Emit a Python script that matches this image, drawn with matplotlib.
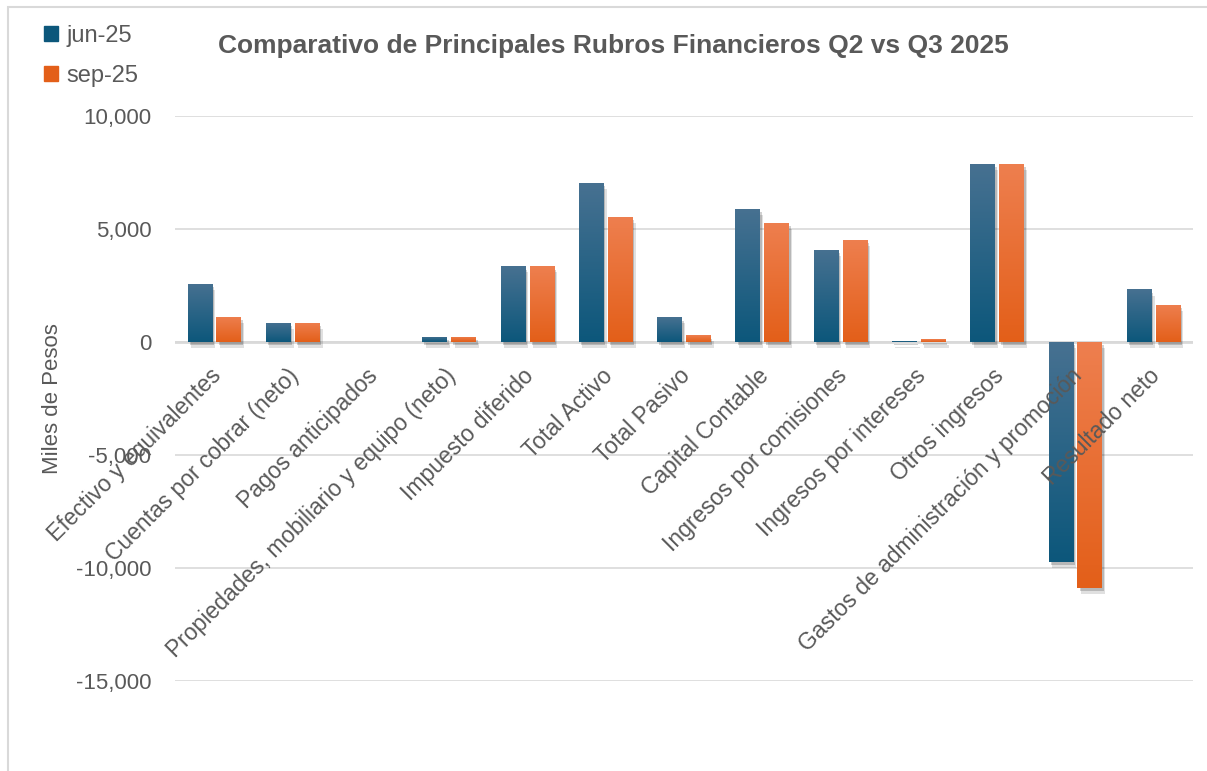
import numpy as np
import matplotlib.pyplot as plt
import matplotlib.patheffects as pe
from matplotlib.colors import LinearSegmentedColormap
from matplotlib.patches import Rectangle

plt.rcParams["font.family"] = ["Liberation Sans", "DejaVu Sans"]

# Data (miles de pesos)
categories = [
    "Efectivo y equivalentes",
    "Cuentas por cobrar (neto)",
    "Pagos anticipados",
    "Propiedades, mobiliario y equipo (neto)",
    "Impuesto diferido",
    "Total Activo",
    "Total Pasivo",
    "Capital Contable",
    "Ingresos por comisiones",
    "Ingresos por intereses",
    "Otros ingresos",
    "Gastos de administración y promoción",
    "Resultado neto",
]
jun_25 = [2580, 850, 10, 230, 3350, 7030, 1100, 5890, 4080, 50, 7880, -9730, 2320]
sep_25 = [1110, 850, 10, 230, 3350, 5540, 300, 5270, 4520, 120, 7880, -10870, 1650]
series_names = ["jun-25", "sep-25"]

text_color = "#595959"
grid_color = "#D9D9D9"
jun_colors = ("#477191", "#0C577B")
sep_colors = ("#EE7F4F", "#E35F19")

fig = plt.figure(figsize=(12.07, 7.71), dpi=100)
ax = fig.add_axes([0.145, 0.1167, 0.843, 0.733])

# outer chart border
fig.patches.append(Rectangle((0.007, -0.01), 1.0, 1.001, transform=fig.transFigure,
                             fill=False, edgecolor="#D9D9D9", linewidth=1.5))

x = np.arange(len(categories))
width = 0.31
off = 0.185

# soft drop shadow
shadow = [
    pe.SimplePatchShadow(offset=(2.5, -4.5), shadow_rgbFace="black", alpha=0.12),
    pe.SimplePatchShadow(offset=(1.5, -2.5), shadow_rgbFace="black", alpha=0.18),
    pe.Normal(),
]
bars_jun = ax.bar(x - off, jun_25, width, color=jun_colors[1], zorder=3, path_effects=shadow)
bars_sep = ax.bar(x + off, sep_25, width, color=sep_colors[1], zorder=3, path_effects=shadow)

# vertical gradient fill, lighter at the top of each bar
grad = np.linspace(0, 1, 256).reshape(-1, 1)
for bars, cols in [(bars_jun, jun_colors), (bars_sep, sep_colors)]:
    cmap = LinearSegmentedColormap.from_list("g", list(cols))
    for rect in bars:
        x0 = rect.get_x()
        y0 = rect.get_y()
        h = rect.get_height()
        if abs(h) < 1:
            continue
        bottom, top = min(y0, y0 + h), max(y0, y0 + h)
        im = ax.imshow(grad, cmap=cmap, extent=(x0, x0 + rect.get_width(), bottom, top),
                       origin="upper", aspect="auto", zorder=4)
        im.set_clip_path(rect)

ax.set_xlim(-0.5, len(categories) - 0.5)
ax.set_ylim(-15000, 10000)
ax.set_yticks([-15000, -10000, -5000, 0, 5000, 10000])
ax.yaxis.set_major_formatter(plt.FuncFormatter(lambda v, p: f"{v:,.0f}"))
ax.tick_params(axis="y", length=0, labelsize=16, labelcolor=text_color, pad=17)
ax.set_xticks([])
ax.grid(axis="y", color=grid_color, linewidth=1.2, zorder=0)
ax.axhline(0, color=grid_color, linewidth=2, zorder=2)
for s in ax.spines.values():
    s.set_visible(False)

# rotated category labels hanging from the zero line
for i, label in enumerate(categories):
    ax.annotate(label, xy=(i, 0), xytext=(-3.5, -16), textcoords="offset points",
                ha="right", va="top", rotation=45, rotation_mode="anchor",
                fontsize=16.5, color=text_color, zorder=5)

ax.set_ylabel("Miles de Pesos", fontsize=16, color=text_color)
ax.yaxis.set_label_coords(-0.11, 0.50)

fig.text(0.508, 0.940, "Comparativo de Principales Rubros Financieros Q2 vs Q3 2025",
         ha="center", va="center", fontsize=19, fontweight="bold", color=text_color)

# legend
handles = [Rectangle((0, 0), 1, 1, color=jun_colors[1]), Rectangle((0, 0), 1, 1, color=sep_colors[1])]
fig.legend(handles, series_names, loc="upper left", bbox_to_anchor=(0.019, 0.995),
           frameon=False, fontsize=17, labelcolor=text_color, handlelength=0.6,
           handleheight=0.6, handletextpad=0.35, labelspacing=0.75)

fig.savefig("out.png", dpi=100)
